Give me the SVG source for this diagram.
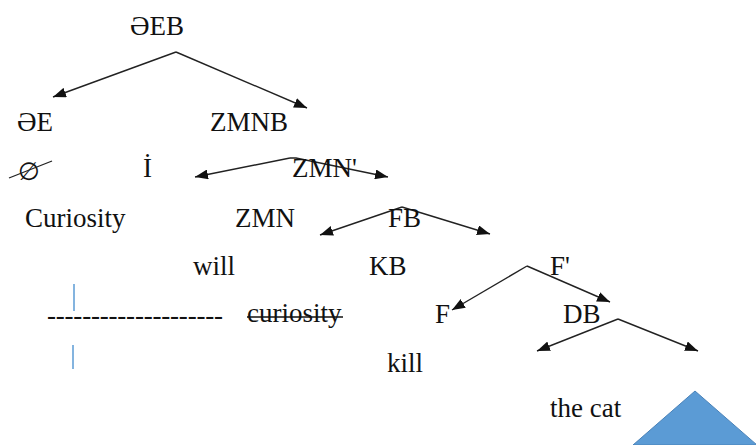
<svg xmlns="http://www.w3.org/2000/svg" width="756" height="445" viewBox="0 0 756 445">
  <defs>
    <marker id="ah" markerUnits="userSpaceOnUse" markerWidth="14" markerHeight="10" refX="13" refY="5" orient="auto">
      <path d="M0,0 L13,5 L0,10 z" fill="#111"/>
    </marker>
  </defs>
  <rect width="756" height="445" fill="#fff"/>

  <g id="connectors" stroke="#222" stroke-width="1.4" fill="none" marker-end="url(#ah)">
    <line x1="176" y1="52" x2="53" y2="97"/>
    <line x1="176" y1="52" x2="307" y2="108"/>
    <line x1="290" y1="158" x2="195" y2="177"/>
    <polyline points="290,158 296,158 388,177"/>
    <line x1="402" y1="207" x2="320" y2="235"/>
    <line x1="402" y1="207" x2="490" y2="234"/>
    <line x1="527" y1="266" x2="452" y2="310"/>
    <line x1="527" y1="266" x2="610" y2="302"/>
    <line x1="618" y1="319" x2="537" y2="351"/>
    <line x1="618" y1="319" x2="698" y2="351"/>
  </g>

  <g id="labels" font-family="Liberation Serif" font-size="27" fill="#111">
    <g id="n-AEB"><text font-family="Liberation Serif" x="130" y="35">ƏEB</text></g>
    <g id="n-AE"><text font-family="Liberation Serif" x="17" y="131">ƏE</text></g>
    <g id="n-ZMNB"><text font-family="Liberation Serif" x="210" y="131">ZMNB</text></g>
    <g id="n-null">
      <text font-family="DejaVu Sans" font-size="25" x="18" y="180">∅</text>
      <line x1="9" y1="178" x2="52" y2="161" stroke="#222" stroke-width="1.3"/>
    </g>
    <g id="n-I"><text font-family="Liberation Serif" x="143" y="177">İ</text></g>
    <g id="n-ZMNp"><text font-family="Liberation Serif" x="292" y="177">ZMN'</text></g>
    <g id="n-curiosity"><text font-family="Liberation Serif" x="25" y="227">Curiosity</text></g>
    <g id="n-ZMN"><text font-family="Liberation Serif" x="235" y="227">ZMN</text></g>
    <g id="n-FB"><text font-family="Liberation Serif" x="388" y="227">FB</text></g>
    <g id="n-will"><text font-family="Liberation Serif" x="193" y="275">will</text></g>
    <g id="n-KB"><text font-family="Liberation Serif" x="369" y="275">KB</text></g>
    <g id="n-Fp"><text font-family="Liberation Serif" x="550" y="275">F'</text></g>
    <g id="n-dash">
      <text font-family="Liberation Serif" x="47" y="324" textLength="176" lengthAdjust="spacing">--------------------</text>
      <line x1="74" y1="284" x2="74" y2="311" stroke="#5b9bd5" stroke-width="1.5"/>
      <line x1="73" y1="345" x2="73" y2="369" stroke="#5b9bd5" stroke-width="1.5"/>
    </g>
    <g id="n-curiosity2">
      <text font-family="Liberation Serif" x="247" y="322">curiosity</text>
      <line x1="247" y1="317" x2="343" y2="317" stroke="#111" stroke-width="1.4"/>
    </g>
    <g id="n-F"><text font-family="Liberation Serif" x="435" y="323">F</text></g>
    <g id="n-DB"><text font-family="Liberation Serif" x="563" y="323">DB</text></g>
    <g id="n-kill"><text font-family="Liberation Serif" x="387" y="372">kill</text></g>
    <g id="n-thecat"><text font-family="Liberation Serif" x="550" y="417">the cat</text></g>
  </g>
  <g id="n-triangle">
    <polygon points="695,391 633,445 757,445" fill="#5b9bd5" stroke="#4a82b8" stroke-width="1"/>
  </g>
</svg>
